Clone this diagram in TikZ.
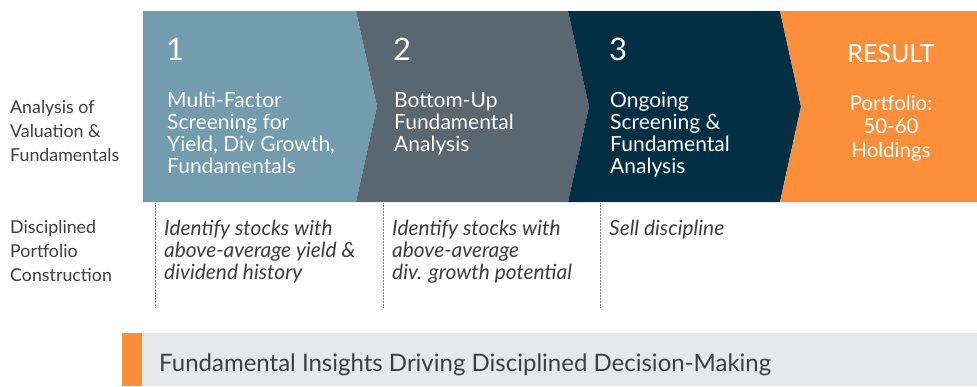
\documentclass[tikz,border=0pt]{standalone}
\usepackage{fontspec}
\setmainfont{Lato}
\usepackage{xcolor}
\usetikzlibrary{positioning}

\definecolor{stepA}{HTML}{739DAE}
\definecolor{stepB}{HTML}{5A6670}
\definecolor{stepC}{HTML}{032F45}
\definecolor{resultor}{HTML}{FD8F3B}
\definecolor{barbg}{HTML}{E7E8EA}
\definecolor{txtgray}{HTML}{3E3E3E}

\begin{document}
\begin{tikzpicture}[x=1pt,y=-1pt, line join=miter]
	\useasboundingbox (0,0) rectangle (977,386);
	
	% ===== styles (base = baseline of the last line) =====
	\tikzset{
		numlabel/.style={anchor=base west, inner sep=0, text=white, font=\fontsize{31}{31}\selectfont},
		steptext/.style={anchor=base west, inner sep=0, text=white, align=left, font=\fontsize{21}{22.1}\selectfont},
		rowlabel/.style={anchor=base west, inner sep=0, text=txtgray, align=left, font=\fontsize{17.8}{24}\selectfont},
		notetext/.style={anchor=base west, inner sep=0, text=txtgray, align=left, font=\fontsize{20.9}{22}\selectfont\itshape},
		sepline/.style={densely dotted, gray, line width=0.5pt}
	}
	
	% ===== chevrons =====
	\fill[stepA] (143,11) -- (356,11) -- (377,106.5) -- (356,202) -- (143,202) -- cycle;
	\foreach \xa/\xb/\col in {356/568/stepB, 568/780/stepC}{
		\fill[\col] (\xa,11) -- (\xb,11) -- (\xb+21,106.5) -- (\xb,202) -- (\xa,202) -- (\xa+21,106.5) -- cycle;
	}
	\fill[resultor] (780,11) -- (977,11) -- (977,202) -- (780,202) -- (801,106.5) -- cycle;
	
	% ===== numbers and step texts =====
	\node[numlabel] (n1) at (166,60) {1};
	\node[numlabel] (n2) at (393,60) {2};
	\node[numlabel] (n3) at (609,60) {3};
	\node[steptext] (s1) at (167,173.3) {Multi-Factor\\Screening for\\Yield, Div Growth,\\Fundamentals};
	\node[steptext] (s2) at (394,151.2) {Bottom-Up\\Fundamental\\Analysis};
	\node[steptext] (s3) at (610,173.3) {Ongoing\\Screening \&\\Fundamental\\Analysis};
	
	% ===== result =====
	\node[anchor=base, inner sep=0, text=white, font=\fontsize{25}{25}\selectfont] (res) at (891,62) {RESULT};
	\node[anchor=base, inner sep=0, text=white, align=center, font=\fontsize{20.5}{23.5}\selectfont] (port) at (891,157) {Portfolio:\\50-60\\Holdings};
	
	% ===== row labels =====
	\node[rowlabel] (rowA) at (10,161) {Analysis of\\Valuation \&\\Fundamentals};
	\node[rowlabel] (rowB) at (10,281) {Disciplined\\Portfolio\\Construction};
	
	% ===== dotted separators =====
	\foreach \x in {155,383,600}{
		\draw[sepline] (\x,203) -- (\x,307);
	}
	
	% ===== notes =====
	\node[notetext] (d1) at (164,279) {Identify stocks with\\above-average yield \&\\dividend history};
	\node[notetext] (d2) at (392,279) {Identify stocks with\\above-average\\div. growth potential};
	\node[notetext] (d3) at (609,235) {Sell discipline};
	
	% ===== bottom bar =====
	\fill[barbg] (142,333) rectangle (977,386);
	\fill[resultor] (122,333) rectangle (142,386);
	\node[anchor=base west, inner sep=0, text=txtgray, font=\fontsize{24}{24}\selectfont] (motto) at (159,371) {Fundamental Insights Driving Disciplined Decision-Making};
\end{tikzpicture}
\end{document}
